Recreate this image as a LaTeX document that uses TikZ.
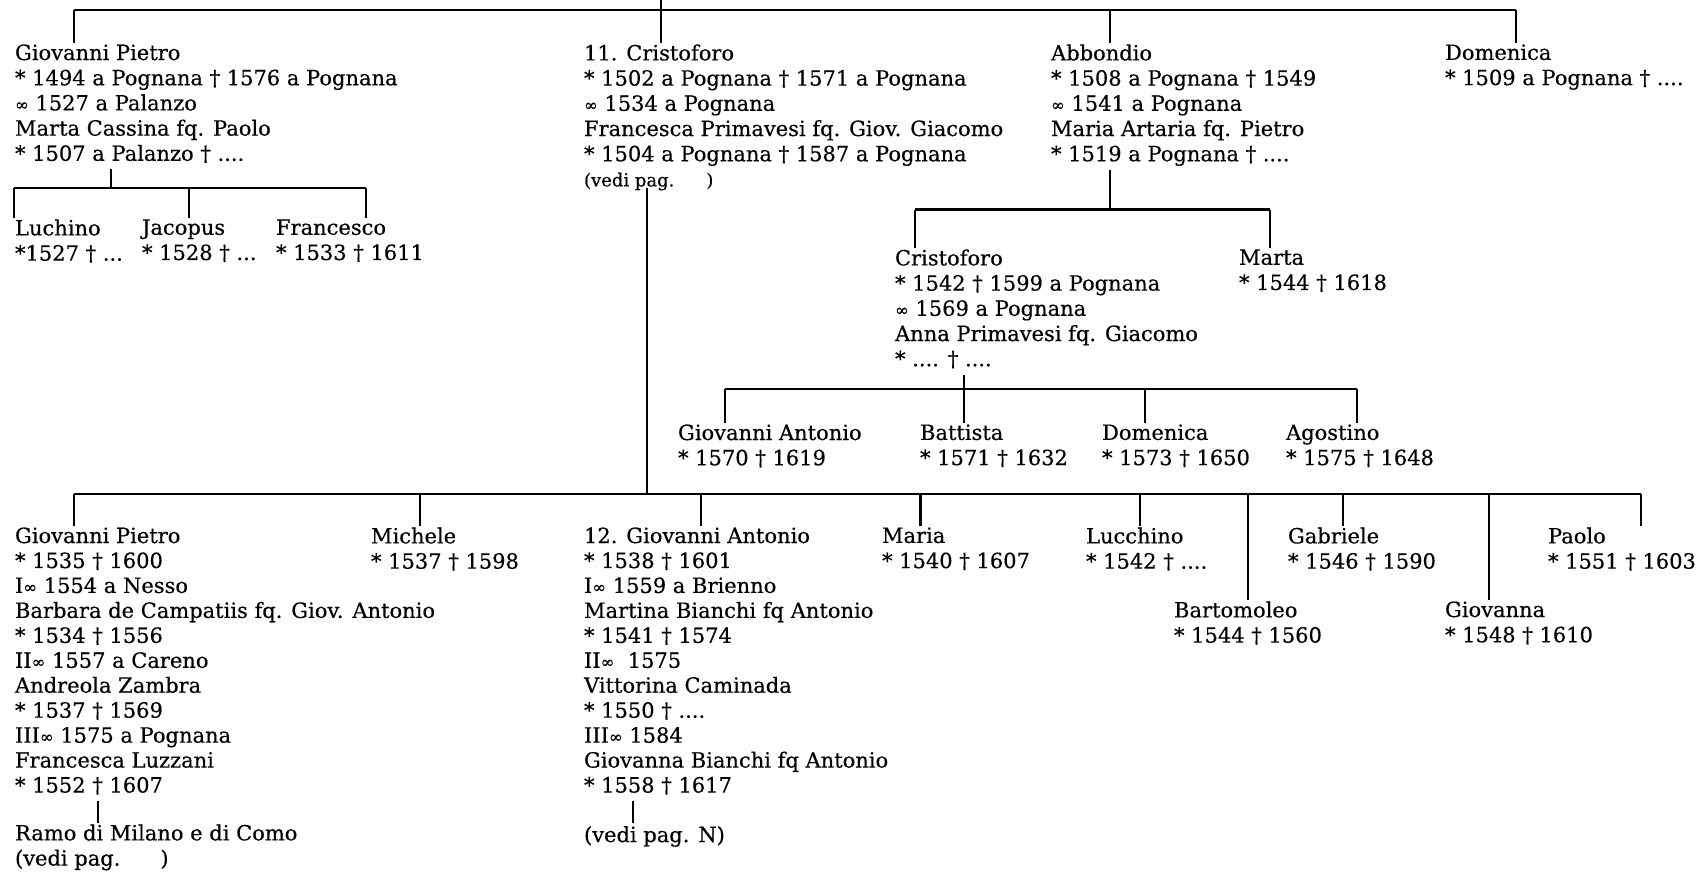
\documentclass[tikz,border=0pt]{standalone}
\usepackage{fontspec}
\setmainfont{DejaVu Serif}[FakeBold=0.4]
\newcommand{\marr}{{\fontsize{16.5}{16.5}\selectfont ∞}}
\newcommand{\dg}{†}
\begin{document}
\begin{tikzpicture}[x=1pt,y=-1pt,line width=2.1pt,
  txt/.style={anchor=north west,inner sep=0pt,align=left,font=\fontsize{21}{25.2}\selectfont,
    execute at begin node={\strut}},
  tall/.style={font=\fontsize{21}{24.95}\selectfont}]
\useasboundingbox (0,0) rectangle (1702,873);
% ---------- generation 1
\node[txt] (gp) at (14,43.4) {Giovanni Pietro\\ * 1494 a Pognana \dg{} 1576 a Pognana\\ \marr{} 1527 a Palanzo\\ Marta Cassina fq. Paolo\\ * 1507 a Palanzo \dg{} ....};
\node[txt] (cr) at (583,43.4) {11. Cristoforo\\ * 1502 a Pognana \dg{} 1571 a Pognana\\ \marr{} 1534 a Pognana\\ Francesca Primavesi fq. Giov. Giacomo\\ * 1504 a Pognana \dg{} 1587 a Pognana\\ {\fontsize{18}{25.2}\selectfont (vedi pag.\hspace{32pt})}};
\node[txt] (ab) at (1050,43.4) {Abbondio\\ * 1508 a Pognana \dg{} 1549\\ \marr{} 1541 a Pognana\\ Maria Artaria fq. Pietro\\ * 1519 a Pognana \dg{} ....};
\node[txt] (dom) at (1444,43.4) {Domenica\\ * 1509 a Pognana \dg{} ....};
\coordinate (t0) at (661,0);
\coordinate (tC) at (661,10);
\coordinate (tL) at (74,10);
\coordinate (tA) at (1110,10);
\coordinate (tR) at (1516,10);
\draw (tL) -- (tR);
\draw (t0) -- (tC);
\draw (tL) -- (tL |- gp.north);
\draw (tC) -- (tC |- cr.north);
\draw (tA) -- (tA |- ab.north);
\draw (tR) -- (tR |- dom.north);
% ---------- children of Giovanni Pietro
\node[txt] (luc) at (14,218.4) {Luchino\\ *1527 \dg{} ...};
\node[txt] (jac) at (141,218.4) {Jacopus\\ * 1528 \dg{} ...};
\node[txt] (fra) at (275,218.4) {Francesco\\ * 1533 \dg{} 1611};
\coordinate (gpc) at (111,188);
\coordinate (gpl) at (14,188);
\coordinate (gpj) at (189,188);
\coordinate (gpr) at (366,188);
\draw (gpc |- gp.south) -- (gpc);
\draw (gpl) -- (gpr);
\draw (gpl) -- (gpl |- luc.north);
\draw (gpj) -- (gpj |- jac.north);
\draw (gpr) -- (gpr |- fra.north);
% ---------- children of Abbondio
\node[txt] (cr2) at (894,248.4) {Cristoforo\\ * 1542 \dg{} 1599 a Pognana\\ \marr{} 1569 a Pognana\\ Anna Primavesi fq. Giacomo\\ * .... \dg{} ....};
\node[txt] (mar2) at (1238,248.4) {Marta\\ * 1544 \dg{} 1618};
\coordinate (aC) at (1110,209.5);
\coordinate (aL) at (915,209.5);
\coordinate (aR) at (1270,209.5);
\draw (aC |- ab.south) -- (aC);
\draw (aL) -- (aR);
\draw (aL) -- (aL |- cr2.north);
\draw (aR) -- (aR |- mar2.north);
% ---------- children of Cristoforo (Abbondio's son)
\node[txt] (gan) at (677,423.4) {Giovanni Antonio\\ * 1570 \dg{} 1619};
\node[txt] (bat) at (919,423.4) {Battista\\ * 1571 \dg{} 1632};
\node[txt] (dom2) at (1101,423.4) {Domenica\\ * 1573 \dg{} 1650};
\node[txt] (ago) at (1285,423.4) {Agostino\\ * 1575 \dg{} 1648};
\coordinate (kC) at (964,388.6);
\coordinate (kL) at (725,388.6);
\coordinate (kD) at (1145,388.6);
\coordinate (kR) at (1357,388.6);
\draw (kC |- cr2.south) -- (kC);
\draw (kL) -- (kR);
\draw (kL) -- (kL |- gan.north);
\draw (kC) -- (kC |- bat.north);
\draw (kD) -- (kD |- dom2.north);
\draw (kR) -- (kR |- ago.north);
% ---------- children of 11. Cristoforo
\node[txt,tall] (gp3) at (14,526.4) {Giovanni Pietro\\ * 1535 \dg{} 1600\\ I\marr{} 1554 a Nesso\\ Barbara de Campatiis fq. Giov. Antonio\\ * 1534 \dg{} 1556\\ II\marr{} 1557 a Careno\\ Andreola Zambra\\ * 1537 \dg{} 1569\\ III\marr{} 1575 a Pognana\\ Francesca Luzzani\\ * 1552 \dg{} 1607};
\node[txt] (mic) at (370,526.4) {Michele\\ * 1537 \dg{} 1598};
\node[txt,tall] (ga) at (583,526.4) {12. Giovanni Antonio\\ * 1538 \dg{} 1601\\ I\marr{} 1559 a Brienno\\ Martina Bianchi fq Antonio\\ * 1541 \dg{} 1574\\ II\marr{}\ \ 1575\\ Vittorina Caminada\\ * 1550 \dg{} ....\\ III\marr{} 1584\\ Giovanna Bianchi fq Antonio\\ * 1558 \dg{} 1617};
\node[txt] (mar) at (881,526.4) {Maria\\ * 1540 \dg{} 1607};
\node[txt] (luc2) at (1085,526.4) {Lucchino\\ * 1542 \dg{} ....};
\node[txt] (gab) at (1287,526.4) {Gabriele\\ * 1546 \dg{} 1590};
\node[txt] (pao) at (1547,526.4) {Paolo\\ * 1551 \dg{} 1603};
\node[txt] (bart) at (1173,600.4) {Bartomoleo\\ * 1544 \dg{} 1560};
\node[txt] (giov) at (1444,600.4) {Giovanna\\ * 1548 \dg{} 1610};
\coordinate (bC) at (647,494);
\coordinate (bL) at (74,494);
\coordinate (b2) at (420,494);
\coordinate (b3) at (701,494);
\coordinate (b4) at (920.5,494);
\coordinate (b5) at (1140,494);
\coordinate (b6) at (1248,494);
\coordinate (b7) at (1343,494);
\coordinate (b8) at (1489,494);
\coordinate (bR) at (1641,494);
\coordinate (crv) at ([yshift=7pt]cr.south);
\draw (bC |- crv) -- (bC);
\draw (bL) -- (bR);
\draw (bL) -- (bL |- gp3.north);
\draw (b2) -- (b2 |- mic.north);
\draw (b3) -- (b3 |- ga.north);
\draw (b4) -- (b4 |- mar.north);
\draw (b5) -- (b5 |- luc2.north);
\draw (b6) -- (b6 |- bart.north);
\draw (b7) -- (b7 |- gab.north);
\draw (b8) -- (b8 |- giov.north);
\draw (bR) -- (bR |- pao.north);
% ---------- continuations
\node[txt] (ramo) at (14,823.4) {Ramo di Milano e di Como\\ (vedi pag.\hspace{40pt})};
\node[txt] (vpn) at (583,823.4) {(vedi pag. N)};
\coordinate (gpb) at (98,0);
\coordinate (gab2) at (633,0);
\draw (gp3.south -| gpb) -- (ramo.north -| gpb);
\draw (ga.south -| gab2) -- (vpn.north -| gab2);
\end{tikzpicture}
\end{document}
